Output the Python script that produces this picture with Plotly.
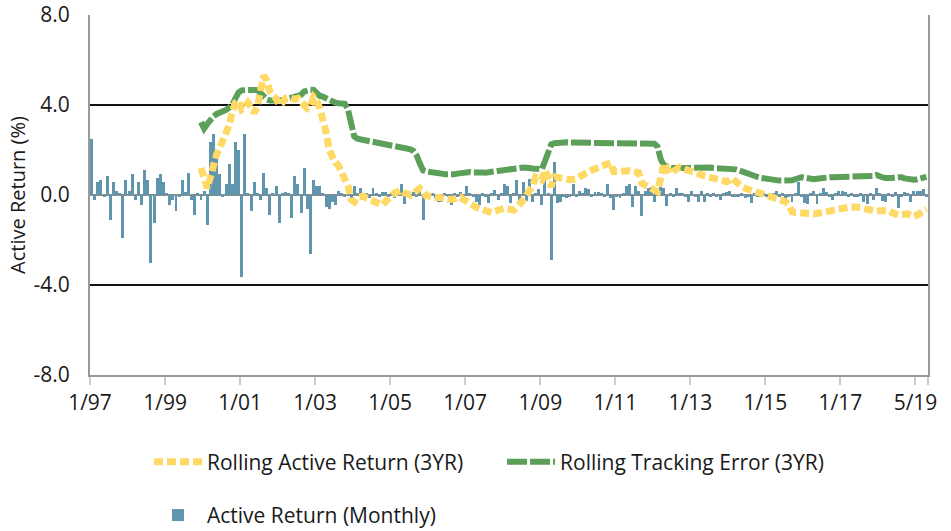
import plotly.graph_objects as go

# ---------------- data ----------------
tick_months = [0, 24, 48, 72, 96, 120, 144, 168, 192, 216, 240, 264, 268]
tick_labels = ["1/97", "1/99", "1/01", "1/03", "1/05", "1/07", "1/09", "1/11",
               "1/13", "1/15", "1/17", "5/19", ""]
y_tick_vals = [-8, -4, 0, 4, 8]
y_tick_labels = ["-8.0", "-4.0", "0.0", "4.0", "8.0"]

# Monthly active return, 1/97 .. 4/19
active_monthly = [
    2.5, -0.2, 0.58, 0.67, -0.1, 0.85, -1.1, 0.58, 0.2, 0.05, -1.9, 0.67,
    0.2, 0.93, -0.2, 0.58, -0.46, 1.1, 0.67, -3.0, -1.25, 0.75, 0.93, 0.58,
    0.05, -0.46, -0.2, -0.73, -0.1, 0.67, 0.13, 1.0, -0.2, -0.9, 0.1, -0.2,
    0.2, -1.35, 2.35, 2.7, 2.0, 0.93, -0.1, 0.5, 1.38, 0.5, 2.35, 2.0,
    -3.65, 2.7, 0.1, -0.73, 0.58, 0.1, -0.2, 1.0, 0.3, -0.9, 0.1, 0.4,
    -1.26, 0.1, 0.13, 0.1, -1.0, 0.85, 0.5, -0.8, 1.2, -0.63, -2.6, 0.67,
    0.4, 0.4, 0.1, -0.55, -0.63, -0.3, -0.46, 0.2, 0.1, -0.1, 0.05, -0.15,
    0.38, 0.1, 0.3, -0.1, 0.05, -0.15, 0.3, 0.1, -0.1, 0.13, 0.15, -0.05,
    0.1, -0.15, 0.05, 0.47, -0.38, 0.1, -0.05, 0.15, -0.1, 0.2, -1.1, 0.1,
    -0.05, 0.1, -0.15, -0.3, -0.3, 0.1, -0.1, -0.46, 0.05, -0.1, 0.15, -0.05,
    0.4, 0.05, -0.1, -0.3, -0.43, 0.1, -0.05, -0.36, 0.1, 0.22, -0.2, 0.1,
    0.47, 0.38, -0.37, 0.1, 0.67, -0.45, 0.58, -0.25, 0.7, -0.3, 0.1, 0.28,
    -0.45, 0.96, 0.1, -2.9, 1.47, -0.37, -0.3, -0.1, -0.15, -0.1, 0.47, -0.1,
    0.2, 0.05, 0.3, 0.25, -0.1, 0.15, 0.13, 0.05, -0.1, 0.5, -0.15, -0.65,
    -0.1, -0.15, 0.05, 0.4, 0.47, -0.55, 0.38, 0.2, -0.92, 0.2, 0.3, 0.37,
    -0.3, 0.1, 0.37, 0.3, -0.47, 0.05, -0.1, 0.3, 0.1, 0.05, -0.1, -0.3,
    0.2, -0.05, -0.3, 0.2, -0.3, 0.05, -0.1, 0.1, -0.05, -0.2, 0.05, 0.15,
    0.2, -0.1, -0.05, -0.1, 0.05, -0.15, -0.1, -0.37, 0.05, -0.1, -0.05, 0.1,
    -0.05, -0.1, 0.05, 0.2, -0.1, 0.05, -0.25, -0.1, -0.3, 0.05, 0.58, -0.05,
    -0.37, -0.38, 0.1, 0.2, -0.38, 0.05, 0.3, 0.15, -0.1, -0.2, 0.1, 0.2,
    0.2, 0.15, -0.05, 0.05, -0.1, -0.05, 0.1, -0.3, -0.38, 0.05, -0.2, 0.3,
    0.05, -0.25, -0.3, 0.1, -0.1, 0.15, -0.58, -0.05, 0.15, 0.1, -0.3, 0.2,
    0.2, 0.2, 0.25, -0.1,
]

# Rolling 3-year series, 12/99 .. 4/19
rolling_start = 35
rolling_active = [
    1.2, 0.67, 0.3, 0.8, 1.4, 1.8, 2.1, 2.4, 2.7, 3.1, 3.7, 4.1, 4.2,
    3.8, 3.9, 4.1, 3.9, 3.65, 3.9, 4.6, 5.3, 5.1, 4.6, 4.4, 4.3,
    4.0, 4.1, 4.3, 4.35, 4.3, 4.25, 4.3, 4.1, 4.0, 3.85, 3.95, 4.35,
    4.2, 3.85, 3.4, 2.8, 2.0, 1.7, 1.45, 1.3, 1.0, 0.8, 0.4, -0.2,
    -0.3, -0.1, -0.07, -0.05, -0.15, -0.22, -0.25, -0.35, -0.42, -0.44, -0.3, -0.15,
    -0.04, 0.1, 0.15, 0.22, 0.1, 0.02, 0.0, 0.1, 0.2, 0.3, 0.2, -0.04,
    -0.05, -0.1, -0.12, -0.1, -0.1, -0.15, -0.2, -0.22, -0.18, -0.12, -0.1, -0.2,
    -0.3, -0.37, -0.45, -0.55, -0.6, -0.64, -0.7, -0.75, -0.79, -0.72, -0.65, -0.59,
    -0.59, -0.62, -0.65, -0.67, -0.55, -0.4, -0.25, -0.07, 0.2, 0.37, 0.79, 0.72,
    0.67, 1.11, 0.7, 0.37, 0.81, 0.8, 0.79, 0.75, 0.7, 0.68, 0.67, 0.72,
    0.8, 0.9, 0.98, 1.04, 1.1, 1.15, 1.2, 1.26, 1.32, 1.38, 1.44, 1.04,
    1.05, 1.08, 1.1, 1.11, 1.08, 1.05, 1.02, 0.99, 0.52, 0.45, 0.38, 0.3,
    0.22, 0.15, 0.74, 1.41, 1.2, 0.96, 1.05, 1.15, 1.23, 1.18, 1.12, 1.08,
    1.04, 1.0, 0.95, 0.9, 0.85, 0.81, 0.78, 0.72, 0.68, 0.62, 0.6, 0.59,
    0.65, 0.74, 0.6, 0.45, 0.37, 0.3, 0.25, 0.2, 0.15, 0.1, 0.06, 0.03,
    0.0, -0.05, -0.1, -0.15, -0.18, -0.22, -0.3, -0.44, -0.74, -0.78, -0.8, -0.82,
    -0.84, -0.85, -0.84, -0.83, -0.82, -0.81, -0.8, -0.76, -0.72, -0.68, -0.64, -0.6,
    -0.59, -0.57, -0.55, -0.53, -0.52, -0.52, -0.55, -0.6, -0.65, -0.7, -0.74, -0.72,
    -0.7, -0.68, -0.67, -0.7, -0.78, -0.85, -0.89, -0.87, -0.85, -0.84, -0.9, -0.96,
    -0.9, -0.8, -0.67, -0.62,
]
rolling_te = [
    3.24, 2.95, 3.15, 3.35, 3.5, 3.6, 3.65, 3.7, 3.78, 3.88, 4.0, 4.3, 4.55,
    4.65, 4.68, 4.67, 4.67, 4.68, 4.66, 4.55, 4.4, 4.25, 4.2, 4.18, 4.2,
    4.22, 4.2, 4.25, 4.3, 4.35, 4.37, 4.4, 4.45, 4.6, 4.67, 4.68, 4.67,
    4.5, 4.4, 4.37, 4.3, 4.2, 4.12, 4.1, 4.08, 4.07, 4.05, 3.8, 3.3,
    2.6, 2.5, 2.47, 2.45, 2.43, 2.4, 2.37, 2.36, 2.35, 2.3, 2.28, 2.25,
    2.2, 2.18, 2.16, 2.14, 2.1, 2.06, 2.03, 1.95, 1.75, 1.4, 1.1, 1.05,
    1.04, 1.02, 1.0, 0.98, 0.95, 0.92, 0.9, 0.9, 0.92, 0.95, 0.98, 1.0,
    1.04, 1.02, 1.0, 0.98, 0.99, 1.0, 0.99, 0.99, 1.02, 1.05, 1.07, 1.08,
    1.1, 1.11, 1.12, 1.15, 1.18, 1.2, 1.22, 1.23, 1.2, 1.18, 1.16, 1.14,
    1.15, 1.5, 1.95, 2.25, 2.3, 2.32, 2.33, 2.33, 2.34, 2.33, 2.33, 2.33,
    2.33, 2.33, 2.34, 2.33, 2.33, 2.33, 2.33, 2.34, 2.33, 2.33, 2.33, 2.33,
    2.33, 2.33, 2.33, 2.34, 2.33, 2.33, 2.33, 2.33, 2.32, 2.32, 2.31, 2.3,
    2.28, 2.15, 1.6, 1.33, 1.25, 1.22, 1.2, 1.19, 1.2, 1.19, 1.2, 1.19,
    1.2, 1.21, 1.22, 1.23, 1.24, 1.23, 1.22, 1.2, 1.2, 1.19, 1.19, 1.18,
    1.17, 1.15, 1.14, 1.1, 1.04, 0.98, 0.92, 0.88, 0.84, 0.8, 0.76, 0.73,
    0.7, 0.68, 0.66, 0.65, 0.64, 0.64, 0.63, 0.64, 0.65, 0.7, 0.78, 0.79,
    0.77, 0.74, 0.72, 0.7, 0.72, 0.75, 0.78, 0.79, 0.79, 0.79, 0.79, 0.79,
    0.79, 0.79, 0.79, 0.8, 0.79, 0.79, 0.79, 0.8, 0.8, 0.81, 0.85, 0.89,
    0.82, 0.78, 0.76, 0.74, 0.76, 0.78, 0.79, 0.79, 0.74, 0.7, 0.67, 0.68,
    0.7, 0.72, 0.76, 0.81,
]

# ---------------- figure ----------------
x_bars = [i + 0.5 for i in range(len(active_monthly))]
x_roll = [rolling_start + i + 0.5 for i in range(len(rolling_active))]

BLUE = "#5f96ae"
YELLOW = "#ffd966"
GREEN = "#5b9f58"
FONT = "Open Sans"
TXT = "#1a1a1a"

fig = go.Figure()
fig.add_trace(go.Bar(
    x=x_bars, y=active_monthly, width=0.95, marker=dict(color=BLUE, line=dict(width=0)),
    name="Active Return (Monthly)", legend="legend3", showlegend=True,
))
fig.add_trace(go.Scatter(
    x=x_roll, y=rolling_te, mode="lines", name="Rolling Tracking Error (3YR)",
    line=dict(color=GREEN, width=6, dash="20px,3px"), legend="legend2", showlegend=True,
))
fig.add_trace(go.Scatter(
    x=x_roll, y=rolling_active, mode="lines", name="Rolling Active Return (3YR)",
    line=dict(color=YELLOW, width=7, dash="9px,4px"), legend="legend", showlegend=True,
))

leg_common = dict(orientation="h", xanchor="left", yanchor="middle",
                  bgcolor="rgba(0,0,0,0)", font=dict(family=FONT, size=21, color=TXT),
                  itemwidth=48)
fig.update_layout(
    width=951, height=531,
    margin=dict(l=90, r=23, t=15, b=156, autoexpand=False),
    paper_bgcolor="white", plot_bgcolor="white",
    font=dict(family=FONT, size=21, color=TXT),
    bargap=0,
    showlegend=True,
    legend=dict(x=0.0704, y=-0.242, **leg_common),
    legend2=dict(x=0.4917, y=-0.242, **leg_common),
    legend3=dict(x=0.0704, y=-0.39, **leg_common),
    xaxis=dict(
        range=[0, 268], tickmode="array", tickvals=tick_months, ticktext=tick_labels,
        ticks="outside", ticklen=8, tickwidth=2, tickcolor="#cccccc",
        showline=True, linecolor="#999999", linewidth=2,
        showgrid=False, zeroline=False, ticklabeloverflow="allow",
        tickfont=dict(family=FONT, size=21, color=TXT),
    ),
    yaxis=dict(
        range=[-8, 8], tickmode="array", tickvals=y_tick_vals, ticktext=y_tick_labels,
        showline=True, mirror=True, linecolor="#999999", linewidth=2,
        showgrid=False, zeroline=True, zerolinecolor="#8c8c8c", zerolinewidth=2,
        ticks="", ticklabelstandoff=14, ticklabeloverflow="allow",
        tickfont=dict(family=FONT, size=21, color=TXT),
        title=dict(text="Active Return (%)", font=dict(family=FONT, size=20, color=TXT),
                   standoff=3),
    ),
    shapes=[
        dict(type="line", xref="paper", x0=0, x1=1, yref="y", y0=v, y1=v,
             line=dict(color="#111111", width=2), layer="below")
        for v in (4, -4)
    ],
)

# Remove the default 8px page margin so the 951x531 figure fills the window exactly.
fig.write_html(
    "out.html",
    config={"displayModeBar": False},
    post_script="document.body.style.margin='0';document.body.style.overflow='hidden';",
)
